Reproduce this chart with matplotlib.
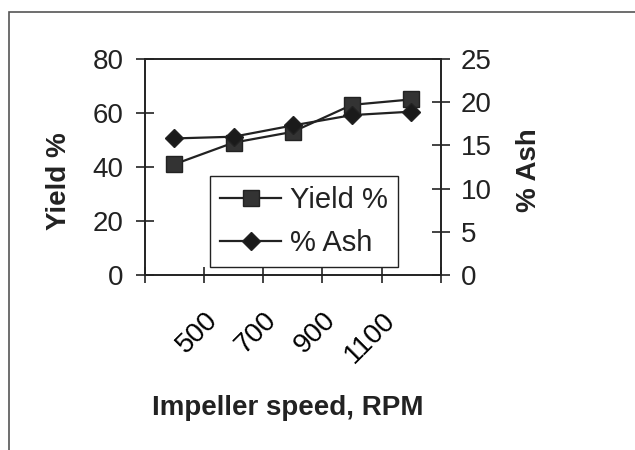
import matplotlib.pyplot as plt
from matplotlib.patches import Rectangle
from matplotlib.transforms import ScaledTranslation

plt.rcParams['font.family'] = ['Liberation Sans', 'DejaVu Sans']

# impeller speed categories (first one carries no label on the chart)
rpm_labels = ['', '500', '700', '900', '1100']
yield_pct = [41, 49, 53, 63, 65]
ash_pct = [15.8, 16.0, 17.3, 18.5, 18.9]

ink = '#222222'

fig = plt.figure(figsize=(6.35, 4.5), dpi=100)
ax = fig.add_axes([0.228, 0.389, 0.466, 0.480])
ax2 = ax.twinx()

pos = list(range(len(rpm_labels)))
l1, = ax.plot(pos, yield_pct, color=ink, lw=1.6, marker='s', ms=11,
              mfc='#333333', mec=ink, label='Yield %')
l2, = ax2.plot(pos, ash_pct, color=ink, lw=1.6, marker='D', ms=9,
               mfc='#1a1a1a', mec=ink, label='% Ash')

ax.set_xlim(-0.5, len(pos) - 0.5)
ax.set_ylim(0, 80)
ax2.set_ylim(0, 25)
ax.set_yticks(range(0, 81, 20))
ax2.set_yticks(range(0, 26, 5))

# category boundaries get the tick marks, labels sit on the centres
ax.set_xticks([p - 0.5 for p in pos] + [pos[-1] + 0.5])
ax.set_xticklabels([])
ax.set_xticks(pos, minor=True)
ax.set_xticklabels(rpm_labels, minor=True, rotation=45, ha='right',
                   va='center', rotation_mode='anchor', fontsize=20)
ax.tick_params(axis='x', which='minor', length=0, pad=30)
shift = ScaledTranslation(-0.20, 0, fig.dpi_scale_trans)
for lab in ax.get_xticklabels(minor=True):
    lab.set_transform(lab.get_transform() + shift)

ax.tick_params(axis='x', which='major', direction='inout', length=12,
               width=1.2, color=ink)
ax.tick_params(axis='y', direction='inout', length=13, width=1.2,
               color=ink, labelsize=20, pad=9, labelcolor=ink)
ax2.tick_params(axis='y', direction='inout', length=13, width=1.2,
                color=ink, labelsize=20, pad=8, labelcolor=ink)

for a in (ax, ax2):
    for sp in a.spines.values():
        sp.set_color(ink)
        sp.set_linewidth(1.2)

ax.set_ylabel('Yield %', fontsize=20, fontweight='bold', color=ink)
ax.yaxis.set_label_coords(-0.245, 0.435)
ax2.set_ylabel('% Ash', fontsize=20, fontweight='bold', color=ink)
ax2.yaxis.set_label_coords(1.255, 0.486)
ax.set_xlabel('Impeller speed, RPM', fontsize=20, fontweight='bold', color=ink)
ax.xaxis.set_label_coords(0.483, -0.555)

leg = ax2.legend([l1, l2], ['Yield %', '% Ash'], loc='lower left',
                 bbox_to_anchor=(0.22, 0.037), fontsize=21, frameon=True,
                 fancybox=False, framealpha=1, edgecolor=ink,
                 handlelength=2.1, handletextpad=0.3, borderpad=0.35,
                 labelspacing=0.5, borderaxespad=0)
leg.get_frame().set_linewidth(1.0)
for t in leg.get_texts():
    t.set_color(ink)

# chart area border, running off the right and bottom edges
fig.patches.append(Rectangle((9 / 635, -0.2), 1.2, 1.2 - 12 / 450,
                             transform=fig.transFigure, fill=False,
                             edgecolor='#555555', lw=1.2))

fig.savefig('out.png', dpi=100)
